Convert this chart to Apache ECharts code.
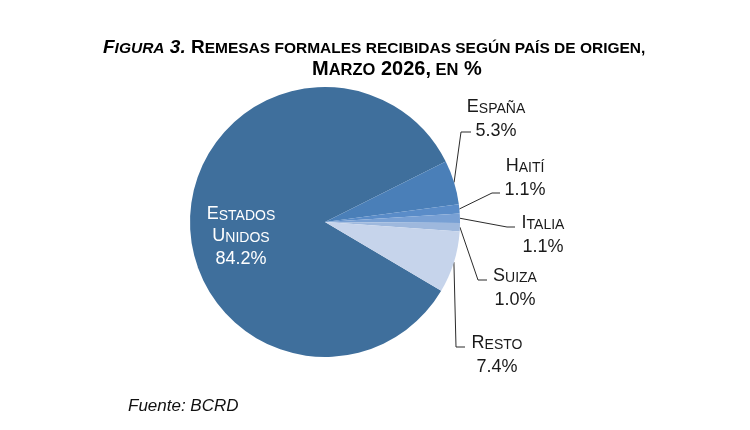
<!DOCTYPE html>
<html>
<head>
<meta charset="utf-8">
<script src="https://cdn.jsdelivr.net/npm/echarts@6/dist/echarts.min.js"></script>
<style>
html,body{margin:0;padding:0;background:#fff;}
#c{width:750px;height:430px;}
</style>
</head>
<body>
<div id="c"></div>
<script>
// ---- data ----
const categories = ['Estados Unidos', 'España', 'Haití', 'Italia', 'Suiza', 'Resto'];
const values = [84.2, 5.3, 1.1, 1.1, 1.0, 7.4];
const colors = ['#3F6F9C', '#4A7FB8', '#5A8CC8', '#78A0D4', '#9EB8DD', '#C6D4EB'];
const sourceText = 'Fuente: BCRD';

// ---- label placement (style, not data) ----
const labelPlaces = [
  { x: 241, y: 234 },
  { x: 496, y: 116, bend: [461, 132], end: [471, 132] },
  { x: 525, y: 175, bend: [492, 193], end: [500, 193] },
  { x: 543, y: 232, bend: [507, 227], end: [515, 227] },
  { x: 515, y: 285, bend: [478, 280], end: [487, 280] },
  { x: 497, y: 352, bend: [456, 347], end: [465, 347] }
];

function smallCaps(name, big, small, sep) {
  return name.split(' ').map(function (w) {
    return '{' + big + '|' + w.charAt(0).toUpperCase() + '}' +
      (w.length > 1 ? '{' + small + '|' + w.slice(1).toUpperCase() + '}' : '');
  }).join(sep);
}

const FONT = '"Liberation Sans", Arial, sans-serif';

const chart = echarts.init(document.getElementById('c'), null, { renderer: 'canvas' });

const pieData = categories.map(function (n, i) {
  const item = { name: n, value: values[i], itemStyle: { color: colors[i] } };
  if (i === 0) {
    item.label = {
      position: 'inside',
      formatter: function (p) {
        return smallCaps(p.name, 'wc', 'ws', '\n') + '\n{wn|' + p.value.toFixed(1) + '%}';
      }
    };
  }
  return item;
});

function titleRich(TB, TS) {
  const hs = 22 - 0.35 * (TB - TS);
  return {
    bi: { fontFamily: FONT, fontSize: TB, fontWeight: 'bold', fontStyle: 'italic', color: '#000', lineHeight: 22, verticalAlign: 'bottom' },
    si: { fontFamily: FONT, fontSize: TS, fontWeight: 'bold', fontStyle: 'italic', color: '#000', lineHeight: hs, verticalAlign: 'bottom' },
    b: { fontFamily: FONT, fontSize: TB, fontWeight: 'bold', color: '#000', lineHeight: 22, verticalAlign: 'bottom' },
    s: { fontFamily: FONT, fontSize: TS, fontWeight: 'bold', color: '#000', lineHeight: hs, verticalAlign: 'bottom' }
  };
}

const LB = 18, LS = 14;
const option = {
  animation: false,
  backgroundColor: '#ffffff',
  title: [
    {
      text: '{bi|F}{si|IGURA}{bi| 3.}{b| R}{s|EMESAS FORMALES RECIBIDAS SEGÚN PAÍS DE ORIGEN,}',
      left: 98, top: 30,
      textStyle: { fontFamily: FONT, rich: titleRich(19, 15.5) }
    },
    {
      text: '{b|M}{s|ARZO}{b| 2026,}{s| EN}{b| %}',
      left: 307, top: 52,
      textStyle: { fontFamily: FONT, rich: titleRich(20, 16.5) }
    }
  ],
  graphic: [
    {
      type: 'text', left: 128, top: 398,
      style: { text: sourceText, font: 'italic 17px ' + FONT, fill: '#111' }
    }
  ],
  series: [
    {
      type: 'pie',
      center: [325, 222],
      radius: [0, 135],
      startAngle: 329.4,
      clockwise: true,
      avoidLabelOverlap: false,
      itemStyle: { borderWidth: 0 },
      emphasis: { disabled: true },
      label: {
        show: true,
        position: 'outside',
        fontFamily: FONT,
        formatter: function (p) {
          return smallCaps(p.name, 'c', 's', ' ') + '\n{n|' + p.value.toFixed(1) + '%}';
        },
        rich: {
          c: { fontFamily: FONT, fontSize: LB, color: '#1a1a1a', lineHeight: 24, verticalAlign: 'bottom' },
          s: { fontFamily: FONT, fontSize: LS, color: '#1a1a1a', lineHeight: 22.6, verticalAlign: 'bottom' },
          n: { fontFamily: FONT, fontSize: LB, color: '#1a1a1a', lineHeight: 24, verticalAlign: 'bottom' },
          wc: { fontFamily: FONT, fontSize: LB, color: '#ffffff', lineHeight: 22.5, verticalAlign: 'bottom' },
          ws: { fontFamily: FONT, fontSize: LS, color: '#ffffff', lineHeight: 21.1, verticalAlign: 'bottom' },
          wn: { fontFamily: FONT, fontSize: LB, color: '#ffffff', lineHeight: 22.5, verticalAlign: 'bottom' }
        }
      },
      labelLine: {
        show: true,
        length: 10,
        length2: 10,
        smooth: false,
        lineStyle: { color: '#2b2b2b', width: 1 }
      },
      labelLayout: function (params) {
        const pl = labelPlaces[params.dataIndex];
        if (!pl) return {};
        const out = { x: pl.x, y: pl.y, align: 'center', verticalAlign: 'middle' };
        if (pl.bend && params.labelLinePoints && params.labelLinePoints.length) {
          out.labelLinePoints = [params.labelLinePoints[0], pl.bend, pl.end];
        }
        return out;
      },
      data: pieData
    }
  ]
};

chart.setOption(option);
</script>
</body>
</html>
